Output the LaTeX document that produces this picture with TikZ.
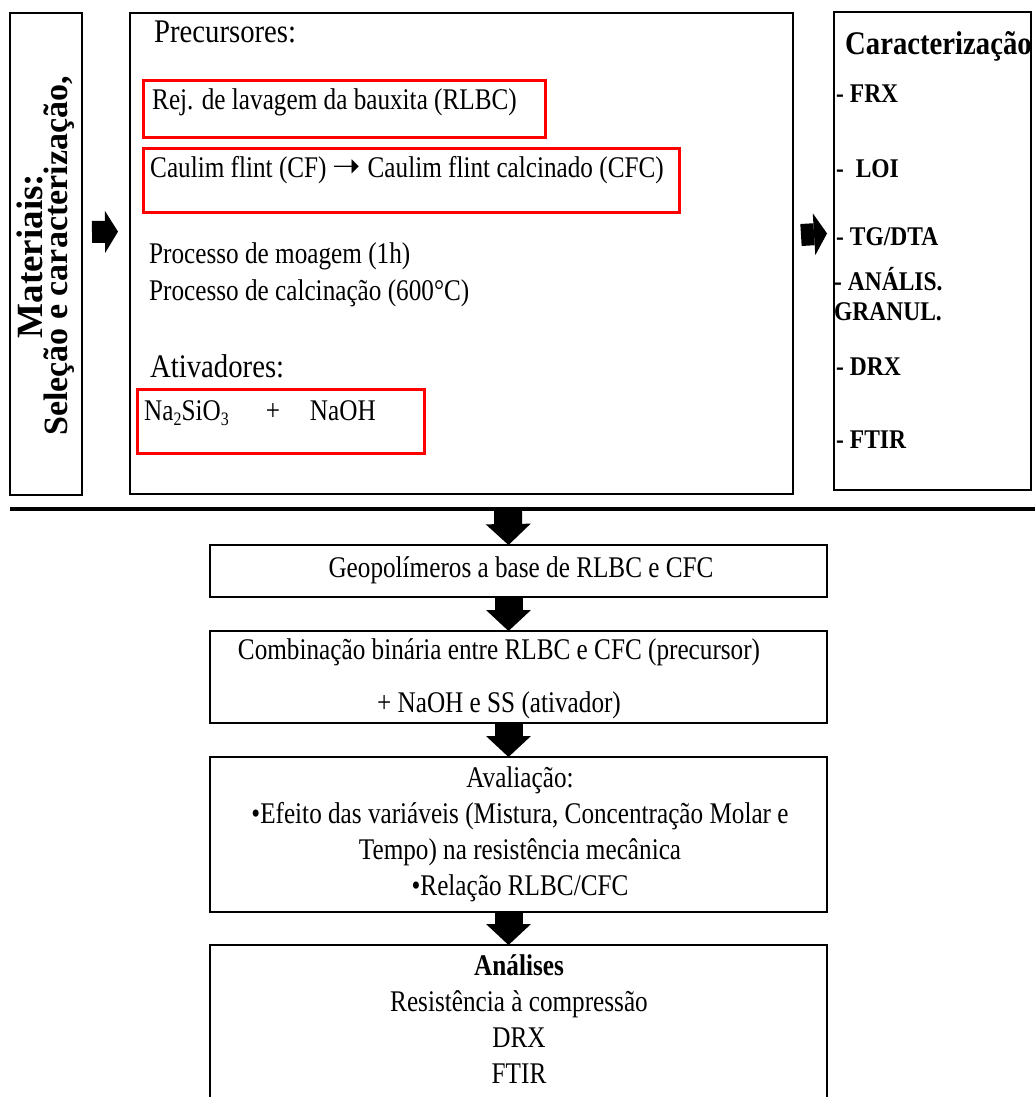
\documentclass[tikz,border=0pt]{standalone}
\usepackage{fontspec}
\setmainfont{Liberation Serif}[FakeStretch=0.84]
\newfontfamily\headfam{Liberation Serif}[FakeStretch=0.87]
\newfontfamily\sidefont{Liberation Serif}
\newfontfamily\arrowfont{DejaVu Sans}
\usetikzlibrary{arrows.meta}
\newcommand\bodyfont{\fontsize{30}{36}\selectfont}
\newcommand\headfont{\headfam\fontsize{33}{38}\selectfont}
\newcommand\tagfont{\headfam\fontsize{27}{30}\selectfont\bfseries}
\newcommand\chemsub[1]{\raisebox{-5pt}{\fontsize{19}{19}\selectfont #1}}
\newcommand\flowarrow{{\arrowfont\fontsize{34}{34}\selectfont\char"279D}}

\begin{document}
\begin{tikzpicture}[
    x           = 1pt,
    y           = -1pt,
    box/.style  = {draw, line width = 2.6pt, inner sep = 0pt, outer sep = 0pt},
    redbox/.style = {draw = red, line width = 3pt, inner sep = 0pt},
    txt/.style  = {inner sep = 0pt, anchor = base west, font = \bodyfont},
    tag/.style  = {inner sep = 0pt, anchor = base west, font = \tagfont},
    mid/.style  = {inner sep = 0pt, anchor = base, font = \bodyfont, align = center},
    down/.style = {line width = 28pt, -{Triangle[length = 21pt, width = 45pt, line width = 0pt]}},
    side/.style = {line width = 22pt, -{Triangle[length = 13pt, width = 42pt, line width = 0pt]}}]
  \useasboundingbox (0,0) rectangle (1035,1097);
  \clip (0,0) rectangle (1035,1097);
  % upper row
  \node [box, minimum width = 72pt,  minimum height = 482pt] (sel)   at (46,254)      {};
  \node [box, minimum width = 663pt, minimum height = 481pt] (main)  at (461.5,253.5) {};
  \node [box, minimum width = 197pt, minimum height = 478pt] (carac) at (932.5,251)   {};
  \node [rotate = 90, align = center, inner sep = 0pt,
         font = \sidefont\fontsize{34}{25}\selectfont\bfseries] (seltxt) at (46,256)
        {{\fontsize{37}{25}\selectfont Materiais:}\\Seleção e caracterização,};
  \node [redbox, minimum width = 402pt, minimum height = 57pt] (rlbc) at (344,109.5) {};
  \node [redbox, minimum width = 536pt, minimum height = 64pt] (cfc)  at (411,180)   {};
  \node [redbox, minimum width = 287pt, minimum height = 64pt] (ativ) at (280.5,421) {};
  \node [txt, font = \headfont] (prec)    at (154,43)  {Precursores:};
  \node [txt]                   (rlbctxt) at (152,110) {Rej. de lavagem da bauxita (RLBC)};
  \node [txt]                   (cfctxt)  at (150,177) {Caulim flint (CF) \flowarrow{} Caulim flint calcinado (CFC)};
  \node [txt]                   (moag)    at (149,263) {Processo de moagem (1h)};
  \node [txt]                   (calc)    at (149,300) {Processo de calcinação (600°C)};
  \node [txt, font = \headfont] (ativa)   at (150,377) {Ativadores:};
  \node [txt]                   (ativtxt) at (144,420)
        {Na\chemsub{2}SiO\chemsub{3}\hspace{37pt}+\hspace{30pt}NaOH};
  \node [txt, font = \headfont\bfseries] (carhead) at (845,55) {Caracterização};
  \node [tag] (frx)   at (836,103) {- FRX};
  \node [tag] (loi)   at (836,177) {-\ \ LOI};
  \node [tag] (tg)    at (836,245) {- TG/DTA};
  \node [tag] (gran)  at (834,290) {- ANÁLIS.};
  \node [tag] (granb) at (834,320) {GRANUL.};
  \node [tag] (drx)   at (836,375) {- DRX};
  \node [tag] (ftir)  at (836,448) {- FTIR};
  \draw [side, shorten <= 10pt, shorten >= 12pt] ([yshift = 22pt]sel.east) -- ([yshift = 22pt]main.west);
  \draw [side, shorten <= 8pt, shorten >= 7pt] ([yshift = 18pt]main.east) -- ([yshift = 18pt]carac.west);
  % separator
  \coordinate (sepl) at (10,509);
  \coordinate (sepr) at (1035,509);
  \coordinate (sepa) at (508,511);
  \draw [line width = 4.5pt] (sepl) -- (sepr);
  % lower column
  \node [box, minimum width = 617pt, minimum height = 52pt]  (geo)  at (518.5,571)    {};
  \node [box, minimum width = 617pt, minimum height = 92pt]  (comb) at (518.5,677)    {};
  \node [box, minimum width = 617pt, minimum height = 155pt] (aval) at (518.5,834.5)  {};
  \node [box, minimum width = 617pt, minimum height = 165pt] (anal) at (518.5,1027.5) {};
  \node [mid] (geotxt)  at (521,577) {Geopolímeros a base de RLBC e CFC};
  \node [mid] (combtxt) at (499,712)
        {Combinação binária entre RLBC e CFC (precursor)\\[17pt]+ NaOH e SS (ativador)};
  \node [mid] (avaltxt) at (520,895)
        {Avaliação:\\•Efeito das variáveis (Mistura, Concentração Molar e\\Tempo) na resistência mecânica\\•Relação RLBC/CFC};
  \node [mid] (analtxt) at (519,1083)
        {\textbf{Análises}\\Resistência à compressão\\DRX\\FTIR};
  \draw [down] (sepa) -- ([xshift = -10pt]geo.north);
  \draw [down] ([xshift = -10pt]geo.south)  -- ([xshift = -10pt]comb.north);
  \draw [down] ([xshift = -10pt]comb.south) -- ([xshift = -10pt]aval.north);
  \draw [down] ([xshift = -10pt]aval.south) -- ([xshift = -10pt]anal.north);
\end{tikzpicture}
\end{document}
